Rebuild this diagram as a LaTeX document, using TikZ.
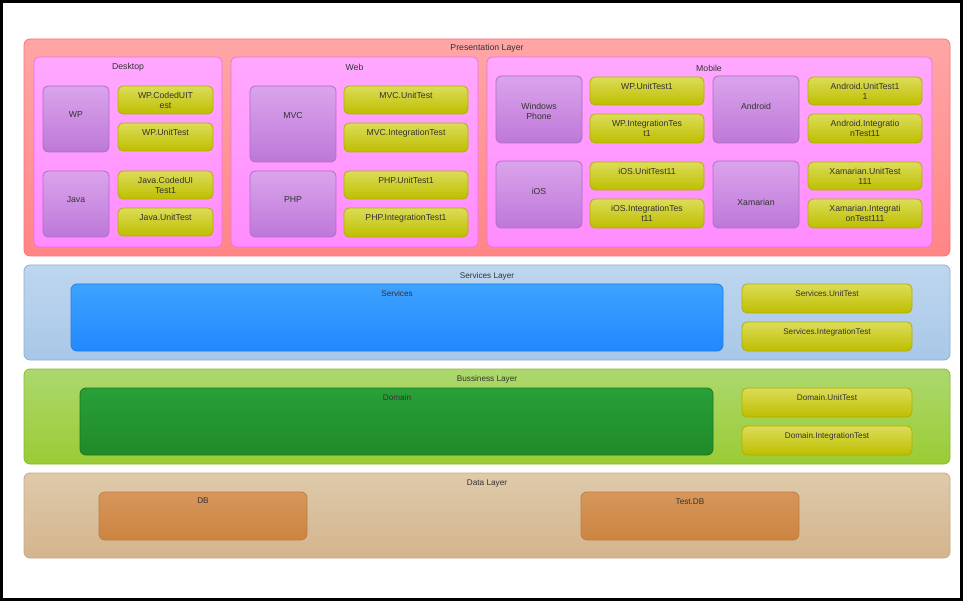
\documentclass[tikz,border=0pt]{standalone}
\usepackage{fontspec}
\setmainfont{Liberation Sans}
\begin{document}
\begin{tikzpicture}[x=1pt,y=-1pt,
  every node/.style={inner sep=0pt,outer sep=0pt},
  lbl/.style={font=\fontsize{8.7}{10}\selectfont,text=black!80,align=center},
  slbl/.style={font=\fontsize{8.2}{9.5}\selectfont,text=black!80,align=center},
  base/.style={line width=0.8pt},
  pres/.style={base,rounded corners=6pt,top color=red!35!white,bottom color=red!48!white,draw=red!55!white},
  cont/.style={base,rounded corners=5pt,top color={rgb,255:red,255;green,168;blue,255},bottom color={rgb,255:red,255;green,140;blue,255},draw={rgb,255:red,238;green,110;blue,238}},
  purp/.style={base,rounded corners=5pt,top color={rgb,255:red,218;green,164;blue,236},bottom color={rgb,255:red,190;green,120;blue,216},draw={rgb,255:red,176;green,106;blue,204}},
  tst/.style={base,rounded corners=5pt,top color={rgb,255:red,220;green,220;blue,90},bottom color={rgb,255:red,190;green,190;blue,0},draw={rgb,255:red,176;green,176;blue,0}},
  svl/.style={base,rounded corners=6pt,top color={rgb,255:red,190;green,214;blue,238},bottom color={rgb,255:red,168;green,200;blue,232},draw={rgb,255:red,140;green,176;blue,216}},
  svb/.style={base,rounded corners=6pt,top color={rgb,255:red,62;green,162;blue,255},bottom color={rgb,255:red,34;green,136;blue,255},draw={rgb,255:red,30;green,126;blue,232}},
  bsl/.style={base,rounded corners=6pt,top color={rgb,255:red,172;green,216;blue,110},bottom color={rgb,255:red,154;green,204;blue,52},draw={rgb,255:red,136;green,186;blue,50}},
  dom/.style={base,rounded corners=6pt,top color={rgb,255:red,40;green,160;blue,56},bottom color={rgb,255:red,32;green,138;blue,40},draw={rgb,255:red,28;green,120;blue,28}},
  dtl/.style={base,rounded corners=6pt,top color={rgb,255:red,222;green,202;blue,170},bottom color={rgb,255:red,212;green,180;blue,142},draw={rgb,255:red,200;green,170;blue,130}},
  dbb/.style={base,rounded corners=6pt,top color={rgb,255:red,214;green,150;blue,92},bottom color={rgb,255:red,204;green,132;blue,64},draw={rgb,255:red,192;green,128;blue,64}}
]
\newcommand\cbox[7]{\node[lbl,#1,anchor=north west,minimum width={(#5-#3)*1pt},minimum height={(#6-#4)*1pt}] (#2) at (#3,#4) {#7};}
\useasboundingbox (0,0) rectangle (963,601);
\fill[white] (0,0) rectangle (963,601);
\node[draw=black,line width=3pt,anchor=north west,minimum width=960pt,minimum height=598pt] (frame) at (1.5,1.5) {};

% Presentation layer
\cbox{pres}{pl}{24}{39}{950}{256}{}
\node[lbl] (plt) at (487,48) {Presentation Layer};
\cbox{cont}{desk}{34}{57}{222}{247}{}
\node[lbl] (deskt) at (128,67) {Desktop};
\cbox{cont}{web}{231}{57}{478}{247}{}
\node[lbl] (webt) at (354.5,67) {Web};
\cbox{cont}{mob}{487}{57}{932}{247}{}
\node[lbl] (mobt) at (709,68) {Mobile};

% Desktop
\cbox{purp}{wp}{43}{86}{109}{152}{}
\node[lbl] (wpt) at (76,115) {WP};
\cbox{purp}{java}{43}{171}{109}{237}{}
\node[lbl] (javat) at (76,200) {Java};
\cbox{tst}{wpc}{118}{86}{213}{114}{WP.CodedUIT\\est}
\cbox{tst}{wpu}{118}{123}{213}{151}{WP.UnitTest\\\mbox{}}
\cbox{tst}{jc}{118}{171}{213}{199}{Java.CodedUI\\Test1}
\cbox{tst}{ju}{118}{208}{213}{236}{Java.UnitTest\\\mbox{}}

% Web
\cbox{purp}{mvc}{250}{86}{336}{162}{}
\node[lbl] (mvct) at (293,116) {MVC};
\cbox{purp}{php}{250}{171}{336}{237}{}
\node[lbl] (phpt) at (293,200) {PHP};
\cbox{tst}{mvcu}{344}{86}{468}{114}{MVC.UnitTest\\\mbox{}}
\cbox{tst}{mvci}{344}{123}{468}{152}{MVC.IntegrationTest\\\mbox{}}
\cbox{tst}{phpu}{344}{171}{468}{199}{PHP.UnitTest1\\\mbox{}}
\cbox{tst}{phpi}{344}{208}{468}{237}{PHP.IntegrationTest1\\\mbox{}}

% Mobile
\cbox{purp}{winp}{496}{76}{582}{143}{}
\node[lbl] (winpt) at (539,111) {Windows\\Phone};
\cbox{purp}{ios}{496}{161}{582}{228}{}
\node[lbl] (iost) at (539,191) {iOS};
\cbox{purp}{andr}{713}{76}{799}{143}{}
\node[lbl] (andrt) at (756,106) {Android};
\cbox{purp}{xam}{713}{161}{799}{228}{}
\node[lbl] (xamt) at (756,202) {Xamarian};
\cbox{tst}{wpu1}{590}{77}{704}{105}{WP.UnitTest1\\\mbox{}}
\cbox{tst}{wpi1}{590}{114}{704}{143}{WP.IntegrationTes\\t1}
\cbox{tst}{iosu}{590}{162}{704}{190}{iOS.UnitTest11\\\mbox{}}
\cbox{tst}{iosi}{590}{199}{704}{228}{iOS.IntegrationTes\\t11}
\cbox{tst}{andu}{808}{77}{922}{105}{Android.UnitTest1\\1}
\cbox{tst}{andi}{808}{114}{922}{143}{Android.Integratio\\nTest11}
\cbox{tst}{xamu}{808}{162}{922}{190}{Xamarian.UnitTest\\111}
\cbox{tst}{xami}{808}{199}{922}{228}{Xamarian.Integrati\\onTest111}

% Services layer
\cbox{svl}{sl}{24}{265}{950}{360}{}
\node[slbl] (slt) at (487,276) {Services Layer};
\cbox{svb}{serv}{71}{284}{723}{351}{}
\node[slbl] (servt) at (397,294) {Services};
\cbox{tst,slbl}{svu}{742}{284}{912}{313}{Services.UnitTest\\\mbox{}}
\cbox{tst,slbl}{svi}{742}{322}{912}{351}{Services.IntegrationTest\\\mbox{}}

% Business layer
\cbox{bsl}{bl}{24}{369}{950}{464}{}
\node[slbl] (blt) at (487,379) {Bussiness Layer};
\cbox{dom}{domain}{80}{388}{713}{455}{}
\node[slbl] (domt) at (397,398) {Domain};
\cbox{tst,slbl}{dmu}{742}{388}{912}{417}{Domain.UnitTest\\\mbox{}}
\cbox{tst,slbl}{dmi}{742}{426}{912}{455}{Domain.IntegrationTest\\\mbox{}}

% Data layer
\cbox{dtl}{dl}{24}{473}{950}{558}{}
\node[slbl] (dlt) at (487,484) {Data Layer};
\cbox{dbb}{db}{99}{492}{307}{540}{}
\node[slbl] (dbt) at (203,501) {DB};
\cbox{dbb}{tdb}{581}{492}{799}{540}{}
\node[slbl] (tdbt) at (690,502) {Test.DB};
\end{tikzpicture}
\end{document}
